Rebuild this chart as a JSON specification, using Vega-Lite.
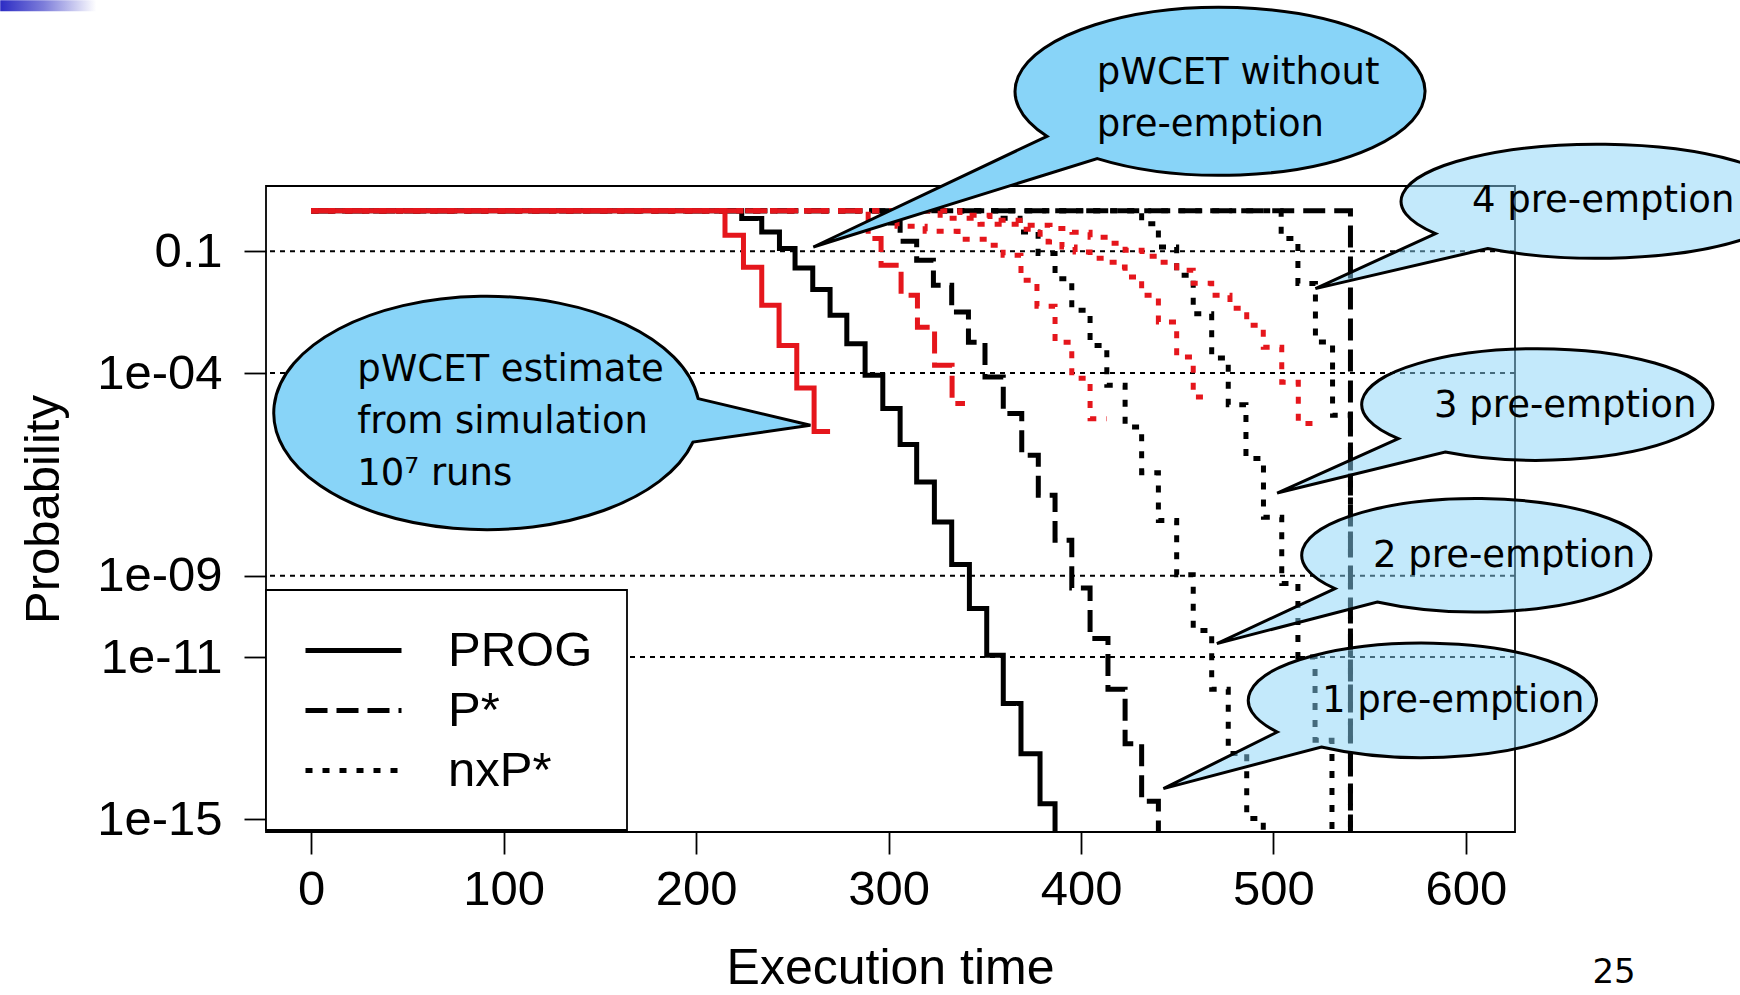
{
  "$schema": "https://vega.github.io/schema/vega-lite/v6.json",
  "width": 1249,
  "height": 646,
  "autosize": {"type": "none"},
  "padding": {"left": 266, "top": 186, "right": 225, "bottom": 163},
  "background": "white",
  "config": {
    "view": {"stroke": "black", "strokeWidth": 1.8},
    "font": "Liberation Sans",
    "axis": {
      "labelFont": "Liberation Sans",
      "titleFont": "Liberation Sans",
      "labelColor": "black",
      "titleColor": "black",
      "tickColor": "black",
      "tickWidth": 1.8,
      "titleFontWeight": "normal",
      "labelFontWeight": "normal"
    },
    "legend": {"strokeWidth": 1.8}
  },
  "datasets": {
    "grid": [{"p": 0.1}, {"p": 1e-4}, {"p": 1e-9}, {"p": 1e-11}],
    "curves": [
      {"s": "PROG", "k": "PROG", "c": "analysis", "t": 0, "p": 1},
      {"s": "PROG", "k": "PROG", "c": "analysis", "t": 223.7, "p": 0.64},
      {"s": "PROG", "k": "PROG", "c": "analysis", "t": 234.1, "p": 0.3},
      {"s": "PROG", "k": "PROG", "c": "analysis", "t": 243.3, "p": 0.117},
      {"s": "PROG", "k": "PROG", "c": "analysis", "t": 251.4, "p": 0.039},
      {"s": "PROG", "k": "PROG", "c": "analysis", "t": 260.6, "p": 0.0114},
      {"s": "PROG", "k": "PROG", "c": "analysis", "t": 269.6, "p": 0.00264},
      {"s": "PROG", "k": "PROG", "c": "analysis", "t": 278.3, "p": 0.00053},
      {"s": "PROG", "k": "PROG", "c": "analysis", "t": 287.8, "p": 8.8e-5},
      {"s": "PROG", "k": "PROG", "c": "analysis", "t": 297.0, "p": 1.33e-5},
      {"s": "PROG", "k": "PROG", "c": "analysis", "t": 306.0, "p": 1.72e-6},
      {"s": "PROG", "k": "PROG", "c": "analysis", "t": 314.6, "p": 2.06e-7},
      {"s": "PROG", "k": "PROG", "c": "analysis", "t": 323.8, "p": 2.13e-8},
      {"s": "PROG", "k": "PROG", "c": "analysis", "t": 332.8, "p": 1.9e-9},
      {"s": "PROG", "k": "PROG", "c": "analysis", "t": 342.0, "p": 1.56e-10},
      {"s": "PROG", "k": "PROG", "c": "analysis", "t": 351.0, "p": 1.1e-11},
      {"s": "PROG", "k": "PROG", "c": "analysis", "t": 359.6, "p": 7.1e-13},
      {"s": "PROG", "k": "PROG", "c": "analysis", "t": 368.8, "p": 4.1e-14},
      {"s": "PROG", "k": "PROG", "c": "analysis", "t": 378.7, "p": 2.4e-15},
      {"s": "PROG", "k": "PROG", "c": "analysis", "t": 386.5, "p": 1e-16},

      {"s": "P*", "k": "P*", "c": "analysis", "t": 0, "p": 1},
      {"s": "P*", "k": "P*", "c": "analysis", "t": 297.0, "p": 0.5},
      {"s": "P*", "k": "P*", "c": "analysis", "t": 306.0, "p": 0.176},
      {"s": "P*", "k": "P*", "c": "analysis", "t": 314.6, "p": 0.06},
      {"s": "P*", "k": "P*", "c": "analysis", "t": 323.3, "p": 0.0145},
      {"s": "P*", "k": "P*", "c": "analysis", "t": 332.8, "p": 0.00319},
      {"s": "P*", "k": "P*", "c": "analysis", "t": 341.5, "p": 0.00057},
      {"s": "P*", "k": "P*", "c": "analysis", "t": 350.1, "p": 8.0e-5},
      {"s": "P*", "k": "P*", "c": "analysis", "t": 359.6, "p": 1.0e-5},
      {"s": "P*", "k": "P*", "c": "analysis", "t": 369.2, "p": 9.4e-7},
      {"s": "P*", "k": "P*", "c": "analysis", "t": 377.8, "p": 9.7e-8},
      {"s": "P*", "k": "P*", "c": "analysis", "t": 386.5, "p": 7.5e-9},
      {"s": "P*", "k": "P*", "c": "analysis", "t": 395.2, "p": 5.0e-10},
      {"s": "P*", "k": "P*", "c": "analysis", "t": 404.7, "p": 2.84e-11},
      {"s": "P*", "k": "P*", "c": "analysis", "t": 414.0, "p": 1.6e-12},
      {"s": "P*", "k": "P*", "c": "analysis", "t": 422.9, "p": 7.3e-14},
      {"s": "P*", "k": "P*", "c": "analysis", "t": 431.5, "p": 2.8e-15},
      {"s": "P*", "k": "P*", "c": "analysis", "t": 440.2, "p": 1e-16},

      {"s": "2xP*", "k": "nxP*", "c": "analysis", "t": 0, "p": 1},
      {"s": "2xP*", "k": "nxP*", "c": "analysis", "t": 359.5, "p": 0.65},
      {"s": "2xP*", "k": "nxP*", "c": "analysis", "t": 368.3, "p": 0.3},
      {"s": "2xP*", "k": "nxP*", "c": "analysis", "t": 377.7, "p": 0.088},
      {"s": "2xP*", "k": "nxP*", "c": "analysis", "t": 386.5, "p": 0.0212},
      {"s": "2xP*", "k": "nxP*", "c": "analysis", "t": 395.2, "p": 0.0035},
      {"s": "2xP*", "k": "nxP*", "c": "analysis", "t": 404.7, "p": 0.00048},
      {"s": "2xP*", "k": "nxP*", "c": "analysis", "t": 413.4, "p": 5.0e-5},
      {"s": "2xP*", "k": "nxP*", "c": "analysis", "t": 422.9, "p": 4.7e-6},
      {"s": "2xP*", "k": "nxP*", "c": "analysis", "t": 431.5, "p": 3.5e-7},
      {"s": "2xP*", "k": "nxP*", "c": "analysis", "t": 440.2, "p": 2.3e-8},
      {"s": "2xP*", "k": "nxP*", "c": "analysis", "t": 449.7, "p": 1.07e-9},
      {"s": "2xP*", "k": "nxP*", "c": "analysis", "t": 458.3, "p": 4.5e-11},
      {"s": "2xP*", "k": "nxP*", "c": "analysis", "t": 467.9, "p": 1.6e-12},
      {"s": "2xP*", "k": "nxP*", "c": "analysis", "t": 476.5, "p": 4.2e-14},
      {"s": "2xP*", "k": "nxP*", "c": "analysis", "t": 486.1, "p": 1.04e-15},
      {"s": "2xP*", "k": "nxP*", "c": "analysis", "t": 494.7, "p": 1e-16},

      {"s": "3xP*", "k": "nxP*", "c": "analysis", "t": 0, "p": 1},
      {"s": "3xP*", "k": "nxP*", "c": "analysis", "t": 431.5, "p": 0.48},
      {"s": "3xP*", "k": "nxP*", "c": "analysis", "t": 440.2, "p": 0.128},
      {"s": "3xP*", "k": "nxP*", "c": "analysis", "t": 449.7, "p": 0.0256},
      {"s": "3xP*", "k": "nxP*", "c": "analysis", "t": 458.3, "p": 0.0029},
      {"s": "3xP*", "k": "nxP*", "c": "analysis", "t": 467.9, "p": 0.000234},
      {"s": "3xP*", "k": "nxP*", "c": "analysis", "t": 476.5, "p": 1.66e-5},
      {"s": "3xP*", "k": "nxP*", "c": "analysis", "t": 485.7, "p": 7.8e-7},
      {"s": "3xP*", "k": "nxP*", "c": "analysis", "t": 494.8, "p": 2.8e-8},
      {"s": "3xP*", "k": "nxP*", "c": "analysis", "t": 504.3, "p": 6.5e-10},
      {"s": "3xP*", "k": "nxP*", "c": "analysis", "t": 512.7, "p": 1.0e-11},
      {"s": "3xP*", "k": "nxP*", "c": "analysis", "t": 521.6, "p": 8.9e-14},
      {"s": "3xP*", "k": "nxP*", "c": "analysis", "t": 530.4, "p": 1e-16},

      {"s": "4xP*", "k": "nxP*", "c": "analysis", "t": 0, "p": 1},
      {"s": "4xP*", "k": "nxP*", "c": "analysis", "t": 504.0, "p": 0.206},
      {"s": "4xP*", "k": "nxP*", "c": "analysis", "t": 512.7, "p": 0.016},
      {"s": "4xP*", "k": "nxP*", "c": "analysis", "t": 521.8, "p": 0.00058},
      {"s": "4xP*", "k": "nxP*", "c": "analysis", "t": 530.7, "p": 9.1e-6},
      {"s": "4xP*", "k": "nxP*", "c": "analysis", "t": 540.0, "p": 1e-16},

      {"s": "max", "k": "P*", "c": "analysis", "t": 0, "p": 1},
      {"s": "max", "k": "P*", "c": "analysis", "t": 540.0, "p": 1e-16},

      {"s": "sim PROG", "k": "PROG", "c": "simulation", "t": 0, "p": 1},
      {"s": "sim PROG", "k": "PROG", "c": "simulation", "t": 215.0, "p": 0.248},
      {"s": "sim PROG", "k": "PROG", "c": "simulation", "t": 224.6, "p": 0.0404},
      {"s": "sim PROG", "k": "PROG", "c": "simulation", "t": 234.1, "p": 0.00467},
      {"s": "sim PROG", "k": "PROG", "c": "simulation", "t": 243.1, "p": 0.00048},
      {"s": "sim PROG", "k": "PROG", "c": "simulation", "t": 252.3, "p": 4.3e-5},
      {"s": "sim PROG", "k": "PROG", "c": "simulation", "t": 261.3, "p": 3.6e-6},
      {"s": "sim PROG", "k": "PROG", "c": "simulation", "t": 269.6, "p": 3.6e-6},

      {"s": "sim P*", "k": "P*", "c": "simulation", "t": 0, "p": 1},
      {"s": "sim P*", "k": "P*", "c": "simulation", "t": 289.4, "p": 0.206},
      {"s": "sim P*", "k": "P*", "c": "simulation", "t": 296.1, "p": 0.0452},
      {"s": "sim P*", "k": "P*", "c": "simulation", "t": 306.5, "p": 0.0082},
      {"s": "sim P*", "k": "P*", "c": "simulation", "t": 315.0, "p": 0.00134},
      {"s": "sim P*", "k": "P*", "c": "simulation", "t": 323.9, "p": 0.000155},
      {"s": "sim P*", "k": "P*", "c": "simulation", "t": 333.0, "p": 1.76e-5},
      {"s": "sim P*", "k": "P*", "c": "simulation", "t": 339.7, "p": 1.76e-5},

      {"s": "sim 2xP*", "k": "nxP*", "c": "simulation", "t": 0, "p": 1},
      {"s": "sim 2xP*", "k": "nxP*", "c": "simulation", "t": 304.4, "p": 0.413},
      {"s": "sim 2xP*", "k": "nxP*", "c": "simulation", "t": 319.0, "p": 0.311},
      {"s": "sim 2xP*", "k": "nxP*", "c": "simulation", "t": 336.1, "p": 0.198},
      {"s": "sim 2xP*", "k": "nxP*", "c": "simulation", "t": 351.7, "p": 0.141},
      {"s": "sim 2xP*", "k": "nxP*", "c": "simulation", "t": 359.5, "p": 0.0796},
      {"s": "sim 2xP*", "k": "nxP*", "c": "simulation", "t": 368.8, "p": 0.0193},
      {"s": "sim 2xP*", "k": "nxP*", "c": "simulation", "t": 377.1, "p": 0.00441},
      {"s": "sim 2xP*", "k": "nxP*", "c": "simulation", "t": 386.5, "p": 0.00057},
      {"s": "sim 2xP*", "k": "nxP*", "c": "simulation", "t": 395.2, "p": 7.4e-5},
      {"s": "sim 2xP*", "k": "nxP*", "c": "simulation", "t": 404.7, "p": 7.5e-6},
      {"s": "sim 2xP*", "k": "nxP*", "c": "simulation", "t": 413.4, "p": 7.5e-6},

      {"s": "sim 3xP*", "k": "nxP*", "c": "simulation", "t": 0, "p": 1},
      {"s": "sim 3xP*", "k": "nxP*", "c": "simulation", "t": 326.8, "p": 0.65},
      {"s": "sim 3xP*", "k": "nxP*", "c": "simulation", "t": 347.5, "p": 0.463},
      {"s": "sim 3xP*", "k": "nxP*", "c": "simulation", "t": 368.3, "p": 0.349},
      {"s": "sim 3xP*", "k": "nxP*", "c": "simulation", "t": 378.7, "p": 0.262},
      {"s": "sim 3xP*", "k": "nxP*", "c": "simulation", "t": 382.9, "p": 0.17},
      {"s": "sim 3xP*", "k": "nxP*", "c": "simulation", "t": 390.1, "p": 0.128},
      {"s": "sim 3xP*", "k": "nxP*", "c": "simulation", "t": 396.9, "p": 0.096},
      {"s": "sim 3xP*", "k": "nxP*", "c": "simulation", "t": 404.7, "p": 0.0672},
      {"s": "sim 3xP*", "k": "nxP*", "c": "simulation", "t": 414.0, "p": 0.0535},
      {"s": "sim 3xP*", "k": "nxP*", "c": "simulation", "t": 418.7, "p": 0.041},
      {"s": "sim 3xP*", "k": "nxP*", "c": "simulation", "t": 422.9, "p": 0.0233},
      {"s": "sim 3xP*", "k": "nxP*", "c": "simulation", "t": 431.5, "p": 0.0082},
      {"s": "sim 3xP*", "k": "nxP*", "c": "simulation", "t": 440.2, "p": 0.00181},
      {"s": "sim 3xP*", "k": "nxP*", "c": "simulation", "t": 449.7, "p": 0.000248},
      {"s": "sim 3xP*", "k": "nxP*", "c": "simulation", "t": 458.3, "p": 2.56e-5},
      {"s": "sim 3xP*", "k": "nxP*", "c": "simulation", "t": 465.3, "p": 2.56e-5},

      {"s": "sim 4xP*", "k": "nxP*", "c": "simulation", "t": 0, "p": 1},
      {"s": "sim 4xP*", "k": "nxP*", "c": "simulation", "t": 337.1, "p": 0.77},
      {"s": "sim 4xP*", "k": "nxP*", "c": "simulation", "t": 352.7, "p": 0.58},
      {"s": "sim 4xP*", "k": "nxP*", "c": "simulation", "t": 368.3, "p": 0.438},
      {"s": "sim 4xP*", "k": "nxP*", "c": "simulation", "t": 383.9, "p": 0.363},
      {"s": "sim 4xP*", "k": "nxP*", "c": "simulation", "t": 395.3, "p": 0.294},
      {"s": "sim 4xP*", "k": "nxP*", "c": "simulation", "t": 404.7, "p": 0.221},
      {"s": "sim 4xP*", "k": "nxP*", "c": "simulation", "t": 414.0, "p": 0.157},
      {"s": "sim 4xP*", "k": "nxP*", "c": "simulation", "t": 422.9, "p": 0.106},
      {"s": "sim 4xP*", "k": "nxP*", "c": "simulation", "t": 431.7, "p": 0.0754},
      {"s": "sim 4xP*", "k": "nxP*", "c": "simulation", "t": 441.0, "p": 0.0535},
      {"s": "sim 4xP*", "k": "nxP*", "c": "simulation", "t": 449.7, "p": 0.034},
      {"s": "sim 4xP*", "k": "nxP*", "c": "simulation", "t": 458.3, "p": 0.0163},
      {"s": "sim 4xP*", "k": "nxP*", "c": "simulation", "t": 467.9, "p": 0.0082},
      {"s": "sim 4xP*", "k": "nxP*", "c": "simulation", "t": 477.4, "p": 0.00394},
      {"s": "sim 4xP*", "k": "nxP*", "c": "simulation", "t": 486.1, "p": 0.0015},
      {"s": "sim 4xP*", "k": "nxP*", "c": "simulation", "t": 494.7, "p": 0.00043},
      {"s": "sim 4xP*", "k": "nxP*", "c": "simulation", "t": 504.3, "p": 5.9e-5},
      {"s": "sim 4xP*", "k": "nxP*", "c": "simulation", "t": 512.9, "p": 5.7e-6},
      {"s": "sim 4xP*", "k": "nxP*", "c": "simulation", "t": 521.6, "p": 5.7e-6}
    ],
    "callouts": [
      {"id": "sim", "tip_t": 259.4, "tip_p": 5.14e-6, "text": ["pWCET estimate", "from simulation", "10⁷ runs"], "tx": 23.9, "tp": 6.43e-5},
      {"id": "base", "tip_t": 260.9, "tip_p": 0.1276, "text": ["pWCET without", "pre-emption"], "tx": 408.2, "tp": 1361},
      {"id": "n4", "tip_t": 521.8, "tip_p": 0.01205, "text": ["4 pre-emption"], "tx": 603.1, "tp": 0.93},
      {"id": "n3", "tip_t": 501.9, "tip_p": 1.1e-7, "text": ["3 pre-emption"], "tx": 583.4, "tp": 8.24e-6},
      {"id": "n2", "tip_t": 470.6, "tip_p": 2.14e-11, "text": ["2 pre-emption"], "tx": 551.7, "tp": 1.65e-9},
      {"id": "n1", "tip_t": 442.8, "tip_p": 5.7e-15, "text": ["1 pre-emption"], "tx": 525.2, "tp": 4.41e-13}
    ]
  },
  "layer": [
    {
      "data": {"name": "grid"},
      "mark": {"type": "rule", "color": "black", "strokeWidth": 2, "strokeDash": [5, 5]},
      "encoding": {
        "y": {"field": "p", "type": "quantitative"}
      }
    },
    {
      "data": {"name": "curves"},
      "transform": [{"filter": "datum.c == 'analysis'"}],
      "mark": {"type": "line", "interpolate": "step-after", "clip": true, "strokeWidth": 5, "strokeCap": "butt"},
      "encoding": {
        "x": {
          "field": "t", "type": "quantitative",
          "scale": {"domain": [-23.5, 625.5], "nice": false, "zero": false},
          "axis": {
            "values": [0, 100, 200, 300, 400, 500, 600],
            "title": "Execution time",
            "titleFontSize": 50,
            "titleX": 624, "titleY": 151,
            "titleBaseline": "alphabetic",
            "titleAnchor": null,
            "labelFontSize": 49,
            "labelBaseline": "alphabetic",
            "labelPadding": 50,
            "labelFlush": false,
            "labelOverlap": false,
            "tickSize": 22,
            "domain": false,
            "grid": false
          }
        },
        "y": {
          "field": "p", "type": "quantitative",
          "scale": {"type": "log", "domain": [4.86e-16, 4.07], "nice": false},
          "axis": {
            "values": [0.1, 1e-4, 1e-9, 1e-11, 1e-15],
            "labelExpr": "datum.value > 0.01 ? '0.1' : datum.value > 1e-6 ? '1e-04' : datum.value > 1e-10 ? '1e-09' : datum.value > 1e-13 ? '1e-11' : '1e-15'",
            "title": "Probability",
            "titleFontSize": 49,
            "titleAngle": 270,
            "titleX": -208, "titleY": 323,
            "titleBaseline": "alphabetic",
            "titleAlign": "center",
            "labelFontSize": 49,
            "labelBaseline": "middle",
            "labelPadding": 22,
            "labelFlush": false,
            "labelOverlap": false,
            "tickSize": 22,
            "domain": false,
            "grid": false
          }
        },
        "detail": {"field": "s"},
        "color": {
          "field": "c", "type": "nominal",
          "scale": {"domain": ["analysis", "simulation"], "range": ["black", "#e5161c"]},
          "legend": null
        },
        "strokeDash": {
          "field": "k", "type": "nominal",
          "scale": {"domain": ["PROG", "P*", "nxP*"], "range": [[1, 0], [22, 9], [7, 10]]},
          "legend": {
            "title": null,
            "orient": "none",
            "legendX": 0,
            "legendY": 404,
            "direction": "vertical",
            "symbolType": "M -2 0 L 2 0",
            "symbolSize": 2304,
            "symbolStrokeWidth": 5,
            "symbolStrokeColor": "black",
            "symbolFillColor": "transparent",
            "symbolOffset": 27,
            "labelFont": "Liberation Sans",
            "labelFontSize": 49,
            "labelColor": "black",
            "labelOffset": 68,
            "labelLimit": 400,
            "padding": 34,
            "rowPadding": 8,
            "strokeColor": "black",
            "fillColor": "white",
            "cornerRadius": 0
          }
        }
      }
    },
    {
      "data": {"name": "curves"},
      "transform": [{"filter": "datum.c == 'simulation'"}],
      "mark": {"type": "line", "interpolate": "step-after", "clip": true, "strokeWidth": 5, "strokeCap": "butt"},
      "encoding": {
        "x": {"field": "t", "type": "quantitative"},
        "y": {"field": "p", "type": "quantitative"},
        "detail": {"field": "s"},
        "color": {"field": "c", "type": "nominal", "legend": null},
        "strokeDash": {"field": "k", "type": "nominal"}
      }
    },
    {
      "data": {"name": "callouts"},
      "transform": [{"filter": "datum.id == 'sim' || datum.id == 'base'"}],
      "mark": {"type": "point", "size": 4, "filled": true, "fill": "#88d4f8", "stroke": "black", "strokeWidth": 3, "opacity": 1, "fillOpacity": 1, "strokeOpacity": 1},
      "encoding": {
        "x": {"field": "tip_t", "type": "quantitative"},
        "y": {"field": "tip_p", "type": "quantitative"},
        "shape": {
          "field": "id", "type": "nominal", "legend": null,
          "scale": {
            "domain": ["sim", "base", "n4", "n3", "n2", "n1"],
            "range": [
              "M -112.3 -26.7 L 0 0 L -117.4 16.7 A 213 116.7 0 1 1 -112.3 -26.7 Z",
              "M 233.6 -110.7 L 0 0 L 284 -88.4 A 205 84 0 1 0 233.6 -110.7 Z",
              "M 120.1 -55 L 0 0 L 172.2 -40 A 196 57 0 1 0 120.1 -55 Z",
              "M 121.2 -54.4 L 0 0 L 168.1 -41 A 175.6 55.8 0 1 0 121.2 -54.4 Z",
              "M 118.1 -55 L 0 0 L 160.4 -41.6 A 174.6 56.7 0 1 0 118.1 -55 Z",
              "M 113.9 -56.6 L 0 0 L 158 -41.6 A 174.1 57.3 0 1 0 113.9 -56.6 Z"
            ]
          }
        }
      }
    },
    {
      "data": {"name": "callouts"},
      "transform": [{"filter": "datum.id != 'sim' && datum.id != 'base'"}],
      "mark": {"type": "point", "size": 4, "filled": true, "fill": "#88d4f8", "stroke": "black", "strokeWidth": 3, "opacity": 1, "fillOpacity": 0.5, "strokeOpacity": 1},
      "encoding": {
        "x": {"field": "tip_t", "type": "quantitative"},
        "y": {"field": "tip_p", "type": "quantitative"},
        "shape": {"field": "id", "type": "nominal", "legend": null}
      }
    },
    {
      "data": {"name": "callouts"},
      "mark": {"type": "text", "font": "DejaVu Sans", "fontSize": 37, "lineHeight": 52, "align": "left", "baseline": "alphabetic", "color": "black"},
      "encoding": {
        "x": {"field": "tx", "type": "quantitative"},
        "y": {"field": "tp", "type": "quantitative"},
        "text": {"field": "text"}
      }
    },
    {
      "data": {"values": [{}]},
      "mark": {
        "type": "rect",
        "color": {"gradient": "linear", "x1": 0, "x2": 1, "y1": 0, "y2": 0, "stops": [{"offset": 0, "color": "#2c2cc4"}, {"offset": 0.45, "color": "#7d7dda"}, {"offset": 1, "color": "#ffffff"}]}
      },
      "encoding": {
        "x": {"datum": -161.6},
        "x2": {"datum": -111.7},
        "y": {"datum": 154000},
        "y2": {"datum": 82400}
      }
    },
    {
      "data": {"values": [{}]},
      "mark": {"type": "text", "font": "DejaVu Sans", "fontSize": 34, "align": "center", "baseline": "alphabetic", "color": "black"},
      "encoding": {
        "x": {"datum": 677},
        "y": {"datum": 9e-20},
        "text": {"value": "25"}
      }
    }
  ]
}
